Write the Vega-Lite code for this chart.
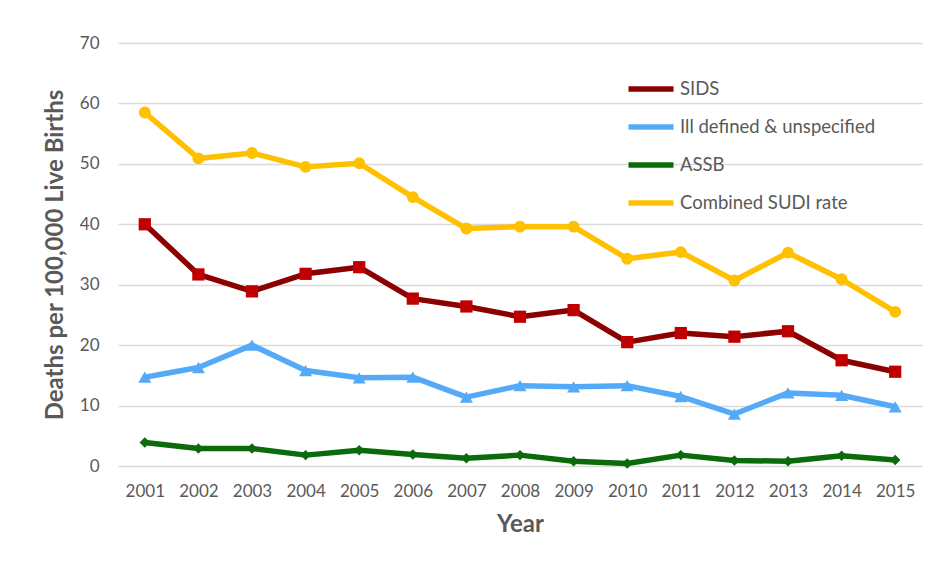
{
  "$schema": "https://vega.github.io/schema/vega-lite/v6.json",
  "width": 804,
  "height": 423,
  "autosize": "none",
  "padding": {"left": 118, "top": 43, "right": 26, "bottom": 109},
  "background": "white",
  "config": {
    "font": "Lato",
    "view": {"stroke": null},
    "axis": {
      "domain": false,
      "ticks": false,
      "tickSize": 0,
      "labelFont": "Lato",
      "labelFontSize": 17,
      "labelColor": "#595959",
      "titleFont": "Lato",
      "titleFontSize": 24,
      "titleFontWeight": "bold",
      "titleColor": "#595959",
      "gridColor": "#d9d9d9",
      "gridWidth": 1.5
    },
    "legend": {
      "labelFont": "Lato",
      "labelFontSize": 18.5,
      "labelColor": "#595959",
      "labelLimit": 400,
      "padding": 0
    }
  },
  "data": {
    "values": [
      {"year": "2001", "series": "SIDS", "value": 40.0},
      {"year": "2002", "series": "SIDS", "value": 31.7},
      {"year": "2003", "series": "SIDS", "value": 28.9},
      {"year": "2004", "series": "SIDS", "value": 31.8},
      {"year": "2005", "series": "SIDS", "value": 32.9},
      {"year": "2006", "series": "SIDS", "value": 27.7},
      {"year": "2007", "series": "SIDS", "value": 26.4},
      {"year": "2008", "series": "SIDS", "value": 24.7},
      {"year": "2009", "series": "SIDS", "value": 25.8},
      {"year": "2010", "series": "SIDS", "value": 20.5},
      {"year": "2011", "series": "SIDS", "value": 22.0},
      {"year": "2012", "series": "SIDS", "value": 21.4},
      {"year": "2013", "series": "SIDS", "value": 22.3},
      {"year": "2014", "series": "SIDS", "value": 17.5},
      {"year": "2015", "series": "SIDS", "value": 15.6},
      {"year": "2001", "series": "Ill defined & unspecified", "value": 14.7},
      {"year": "2002", "series": "Ill defined & unspecified", "value": 16.3},
      {"year": "2003", "series": "Ill defined & unspecified", "value": 20.0},
      {"year": "2004", "series": "Ill defined & unspecified", "value": 15.8},
      {"year": "2005", "series": "Ill defined & unspecified", "value": 14.6},
      {"year": "2006", "series": "Ill defined & unspecified", "value": 14.7},
      {"year": "2007", "series": "Ill defined & unspecified", "value": 11.4},
      {"year": "2008", "series": "Ill defined & unspecified", "value": 13.3},
      {"year": "2009", "series": "Ill defined & unspecified", "value": 13.1},
      {"year": "2010", "series": "Ill defined & unspecified", "value": 13.3},
      {"year": "2011", "series": "Ill defined & unspecified", "value": 11.5},
      {"year": "2012", "series": "Ill defined & unspecified", "value": 8.6},
      {"year": "2013", "series": "Ill defined & unspecified", "value": 12.1},
      {"year": "2014", "series": "Ill defined & unspecified", "value": 11.7},
      {"year": "2015", "series": "Ill defined & unspecified", "value": 9.8},
      {"year": "2001", "series": "ASSB", "value": 3.9},
      {"year": "2002", "series": "ASSB", "value": 2.9},
      {"year": "2003", "series": "ASSB", "value": 2.9},
      {"year": "2004", "series": "ASSB", "value": 1.8},
      {"year": "2005", "series": "ASSB", "value": 2.6},
      {"year": "2006", "series": "ASSB", "value": 1.9},
      {"year": "2007", "series": "ASSB", "value": 1.3},
      {"year": "2008", "series": "ASSB", "value": 1.8},
      {"year": "2009", "series": "ASSB", "value": 0.8},
      {"year": "2010", "series": "ASSB", "value": 0.4},
      {"year": "2011", "series": "ASSB", "value": 1.8},
      {"year": "2012", "series": "ASSB", "value": 0.9},
      {"year": "2013", "series": "ASSB", "value": 0.8},
      {"year": "2014", "series": "ASSB", "value": 1.7},
      {"year": "2015", "series": "ASSB", "value": 1.0},
      {"year": "2001", "series": "Combined SUDI rate", "value": 58.5},
      {"year": "2002", "series": "Combined SUDI rate", "value": 50.9},
      {"year": "2003", "series": "Combined SUDI rate", "value": 51.8},
      {"year": "2004", "series": "Combined SUDI rate", "value": 49.5},
      {"year": "2005", "series": "Combined SUDI rate", "value": 50.1},
      {"year": "2006", "series": "Combined SUDI rate", "value": 44.5},
      {"year": "2007", "series": "Combined SUDI rate", "value": 39.3},
      {"year": "2008", "series": "Combined SUDI rate", "value": 39.6},
      {"year": "2009", "series": "Combined SUDI rate", "value": 39.6},
      {"year": "2010", "series": "Combined SUDI rate", "value": 34.3},
      {"year": "2011", "series": "Combined SUDI rate", "value": 35.4},
      {"year": "2012", "series": "Combined SUDI rate", "value": 30.7},
      {"year": "2013", "series": "Combined SUDI rate", "value": 35.3},
      {"year": "2014", "series": "Combined SUDI rate", "value": 30.9},
      {"year": "2015", "series": "Combined SUDI rate", "value": 25.5}
    ]
  },
  "encoding": {
    "x": {
      "field": "year",
      "type": "ordinal",
      "scale": {"type": "point", "padding": 0.5},
      "axis": {"title": "Year", "labelAngle": 0, "labelPadding": 17, "titlePadding": 13, "grid": false}
    },
    "y": {
      "field": "value",
      "type": "quantitative",
      "scale": {"domain": [0, 70], "nice": false},
      "axis": {"title": "Deaths per 100,000 Live Births", "values": [0, 10, 20, 30, 40, 50, 60, 70], "labelPadding": 19, "titlePadding": 12, "grid": true}
    }
  },
  "layer": [
    {
      "mark": {"type": "line", "strokeWidth": 5.5, "strokeJoin": "round", "strokeCap": "round"},
      "encoding": {
        "stroke": {
          "field": "series",
          "type": "nominal",
          "scale": {
            "domain": ["SIDS", "Ill defined & unspecified", "ASSB", "Combined SUDI rate"],
            "range": ["#8b0000", "#55aaf8", "#0b6b0b", "#ffc000"]
          },
          "legend": {
            "title": null,
            "orient": "none",
            "legendX": 515,
            "legendY": 28,
            "symbolType": "M-1.5,0H1.5",
            "symbolSize": 900,
            "symbolStrokeWidth": 5.5,
            "rowPadding": 9,
            "labelOffset": 11
          }
        }
      }
    },
    {
      "transform": [{"filter": {"field": "series", "equal": "SIDS"}}],
      "mark": {"type": "point", "shape": "square", "filled": true, "color": "#c00000", "opacity": 1, "size": 150, "strokeWidth": 0}
    },
    {
      "transform": [{"filter": {"field": "series", "equal": "Ill defined & unspecified"}}],
      "mark": {"type": "point", "shape": "triangle-up", "filled": true, "color": "#55aaf8", "opacity": 1, "size": 170, "strokeWidth": 0}
    },
    {
      "transform": [{"filter": {"field": "series", "equal": "ASSB"}}],
      "mark": {"type": "point", "shape": "diamond", "filled": true, "color": "#0b6b0b", "opacity": 1, "size": 110, "strokeWidth": 0}
    },
    {
      "transform": [{"filter": {"field": "series", "equal": "Combined SUDI rate"}}],
      "mark": {"type": "point", "shape": "circle", "filled": true, "color": "#ffc000", "opacity": 1, "size": 140, "strokeWidth": 0}
    }
  ]
}
